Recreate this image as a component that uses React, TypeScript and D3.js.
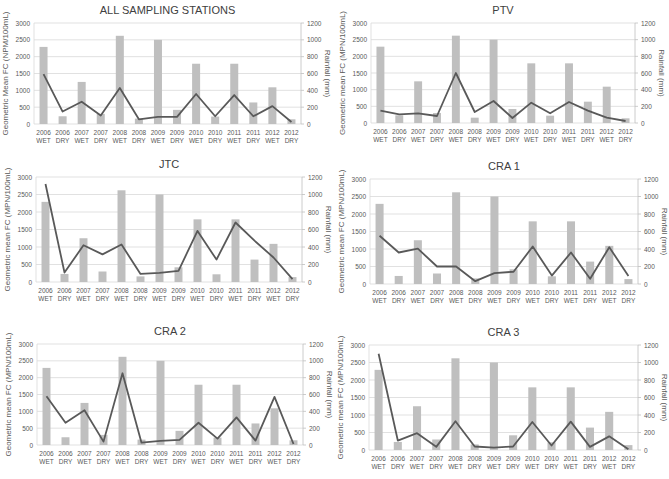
import React from 'react';
import * as d3 from 'd3';

// categories
const years = ['2006', '2006', '2007', '2007', '2008', '2008', '2009', '2009', '2010', '2010', '2011', '2011', '2012', '2012'];
const seasons = ['WET', 'DRY', 'WET', 'DRY', 'WET', 'DRY', 'WET', 'DRY', 'WET', 'DRY', 'WET', 'DRY', 'WET', 'DRY'];

// rainfall (mm), same for every station
const rainfall = [916, 92, 500, 120, 1048, 64, 1000, 168, 716, 88, 716, 256, 436, 56];

// geometric mean FC (MPN/100mL) per station
const fcAll = [1480, 370, 660, 250, 1070, 140, 210, 210, 890, 230, 860, 230, 530, 60];
const fcPTV = [370, 260, 290, 210, 1500, 330, 660, 150, 610, 290, 630, 370, 160, 60];
const fcJTC = [2800, 270, 1050, 790, 1070, 230, 260, 320, 1460, 640, 1700, 1180, 700, 80];
const fcCRA1 = [1380, 900, 1010, 500, 500, 80, 310, 350, 1070, 240, 900, 150, 1050, 230];
const fcCRA2 = [1450, 660, 1030, 100, 2130, 70, 120, 150, 660, 190, 820, 130, 1430, 30];
const fcCRA3 = [2750, 270, 480, 90, 820, 100, 70, 100, 800, 130, 810, 90, 390, 20];

const fcTicks = [0, 500, 1000, 1500, 2000, 2500, 3000];
const rainTicks = [0, 200, 400, 600, 800, 1000, 1200];

const panels = [
  { title: 'ALL SAMPLING STATIONS', yLabel: 'Geometric Mean FC (NPM/100mL)', fc: fcAll, l: 34, r: 301, t: 23, b: 124 },
  { title: 'PTV', yLabel: 'Geometric mean FC (MPN/100mL)', fc: fcPTV, l: 371, r: 635, t: 23, b: 123 },
  { title: 'JTC', yLabel: 'Geometric mean FC (MPN/100mL)', fc: fcJTC, l: 36, r: 302, t: 177, b: 282 },
  { title: 'CRA 1', yLabel: 'Geometric mean  FC (MPN/100mL)', fc: fcCRA1, l: 370, r: 638, t: 179, b: 284 },
  { title: 'CRA 2', yLabel: 'Geometric mean FC (MPN/100mL)', fc: fcCRA2, l: 37, r: 303, t: 344, b: 445 },
  { title: 'CRA 3', yLabel: 'Geometric mean FC  (MPN/100mL)', fc: fcCRA3, l: 369, r: 638, t: 345, b: 450 },
];

const font = 'Liberation Sans, Arial, sans-serif';
const textColor = '#595959';

const Panel = ({ p }) => {
  const idx = d3.range(years.length);
  const x = d3.scaleBand<number>().domain(idx).range([p.l, p.r]).paddingInner(0.58).paddingOuter(0.29);
  const yFc = d3.scaleLinear().domain([0, 3000]).range([p.b, p.t]);
  const yRain = d3.scaleLinear().domain([0, 1200]).range([p.b, p.t]);
  const cx = (i: number) => x(i)! + x.bandwidth() / 2;
  const line = d3.line<number>().x((_, i) => cx(i)).y(d => yFc(d));
  const midY = (p.t + p.b) / 2;

  return (
    <g fontFamily={font} fill={textColor}>
      <text x={(p.l + p.r) / 2} y={p.t - 9} textAnchor="middle" fontSize={11} fill="#404040">{p.title}</text>
      {fcTicks.map(t => (
        <g key={t}>
          <line x1={p.l} x2={p.r} y1={yFc(t)} y2={yFc(t)} stroke="#d9d9d9" strokeWidth={0.8} />
          <text x={p.l - 4} y={yFc(t) + 2.5} textAnchor="end" fontSize={6.5}>{t}</text>
        </g>
      ))}
      <line x1={p.l} x2={p.l} y1={p.t} y2={p.b} stroke="#d9d9d9" strokeWidth={0.8} />
      <line x1={p.r} x2={p.r} y1={p.t} y2={p.b} stroke="#bfbfbf" strokeWidth={0.8} />
      {rainTicks.map(t => (
        <g key={t}>
          <line x1={p.r} x2={p.r + 3} y1={yRain(t)} y2={yRain(t)} stroke="#bfbfbf" strokeWidth={0.8} />
          <text x={p.r + 6} y={yRain(t) + 2.5} textAnchor="start" fontSize={6.5}>{t}</text>
        </g>
      ))}
      {rainfall.map((v, i) => (
        <rect key={i} x={x(i)} y={yRain(v)} width={x.bandwidth()} height={p.b - yRain(v)} fill="#bfbfbf" />
      ))}
      <path d={line(p.fc) || ''} fill="none" stroke="#595959" strokeWidth={1.8} strokeLinejoin="round" />
      {idx.map(i => (
        <text key={i} x={cx(i)} y={p.b + 11} textAnchor="middle" fontSize={6.5}>
          <tspan x={cx(i)}>{years[i]}</tspan>
          <tspan x={cx(i)} dy={8}>{seasons[i]}</tspan>
        </text>
      ))}
      <text transform={`translate(${p.l - 26},${midY}) rotate(-90)`} textAnchor="middle" fontSize={8}>{p.yLabel}</text>
      <text transform={`translate(${p.r + 24},${midY}) rotate(90)`} textAnchor="middle" fontSize={8}>Rainfall (mm)</text>
    </g>
  );
};

export default function App() {
  return (
    <svg width={669} height={479} style={{ position: 'absolute', left: 0, top: 0, background: '#fff' }}>
      {panels.map(p => <Panel key={p.title} p={p} />)}
    </svg>
  );
}
